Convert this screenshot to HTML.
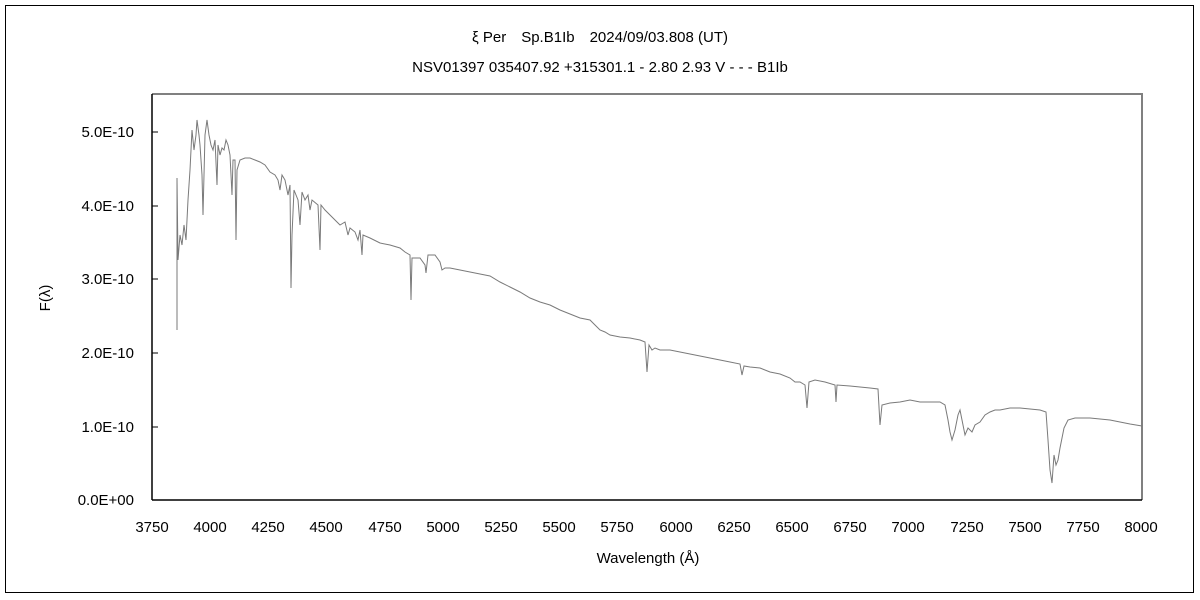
<!DOCTYPE html><html><head><meta charset="utf-8"><style>body{margin:0;background:#fff}svg{display:block}text{font-family:"Liberation Sans","Noto Sans CJK JP",sans-serif;font-size:15px;fill:#000}</style></head><body>
<svg width="1200" height="600" viewBox="0 0 1200 600">
<rect x="5.5" y="5.5" width="1188" height="587" fill="#fff" stroke="#000" stroke-width="1"/>
<text x="600" y="42" text-anchor="middle">ξ Per　Sp.B1Ib　2024/09/03.808 (UT)</text>
<text x="600" y="72" text-anchor="middle">NSV01397 035407.92 +315301.1 - 2.80 2.93 V - - - B1Ib</text>
<polyline points="152,94 1142,94 1142,500" fill="none" stroke="#808080" stroke-width="2"/>
<line x1="152" y1="94" x2="152" y2="500" stroke="#000" stroke-width="1.5"/>
<line x1="152" y1="500" x2="1142" y2="500" stroke="#000" stroke-width="1.5"/>
<g stroke="#000" stroke-width="1">
<line x1="152" y1="132" x2="158" y2="132"/><line x1="152" y1="206" x2="158" y2="206"/><line x1="152" y1="279" x2="158" y2="279"/><line x1="152" y1="353" x2="158" y2="353"/><line x1="152" y1="427" x2="158" y2="427"/>
</g>
<g text-anchor="end">
<text x="134" y="137">5.0E-10</text><text x="134" y="211">4.0E-10</text><text x="134" y="284">3.0E-10</text><text x="134" y="358">2.0E-10</text><text x="134" y="432">1.0E-10</text><text x="134" y="505">0.0E+00</text>
</g>
<g text-anchor="middle">
<text x="152" y="532">3750</text><text x="210" y="532">4000</text><text x="268" y="532">4250</text><text x="326" y="532">4500</text><text x="385" y="532">4750</text><text x="443" y="532">5000</text><text x="501" y="532">5250</text><text x="559" y="532">5500</text><text x="617" y="532">5750</text><text x="676" y="532">6000</text><text x="734" y="532">6250</text><text x="792" y="532">6500</text><text x="850" y="532">6750</text><text x="908" y="532">7000</text><text x="967" y="532">7250</text><text x="1025" y="532">7500</text><text x="1083" y="532">7750</text><text x="1141" y="532">8000</text>
<text x="648" y="563">Wavelength (Å)</text>
</g>
<text transform="translate(50,298) rotate(-90)" text-anchor="middle">F(λ)</text>
<polyline fill="none" stroke="#7a7a7a" stroke-width="1" points="177,330 177,178 178,260 180,235 182,245 184,225 186,240 188,200 190,170 192,130 194,150 196,135 197,120 199,135 200,145 202,175 203,215 205,135 207,120 209,135 211,145 213,150 215,140 217,185 218,145 220,155 222,148 224,150 226,140 228,145 230,155 232,195 233,160 235,160 236,240 237,170 240,160 245,158 250,158 255,160 260,162 265,165 270,172 275,175 278,180 280,190 282,175 285,180 288,195 290,185 291,288 292,235 294,190 298,200 300,225 302,192 305,200 308,195 310,210 312,200 318,205 320,250 321,205 325,210 330,215 335,220 340,225 345,222 348,235 350,228 355,232 358,240 360,230 362,255 363,235 370,238 380,243 390,245 400,248 405,252 410,255 411,300 412,258 415,258 420,258 425,265 426,273 428,255 435,255 440,262 442,270 445,268 450,268 460,270 470,272 480,274 490,276 500,282 510,287 520,292 530,298 540,302 550,305 560,310 570,314 580,318 590,320 595,325 600,330 605,332 610,335 620,337 630,338 640,340 645,342 647,372 649,345 652,350 655,348 660,350 670,350 680,352 690,354 700,356 710,358 720,360 730,362 740,364 742,375 744,366 750,367 760,368 770,372 780,374 790,378 795,382 800,382 805,385 807,408 809,382 815,380 825,382 835,385 836,402 837,385 850,386 870,388 878,389 880,425 882,405 890,403 900,402 910,400 920,402 930,402 940,402 945,405 948,420 950,432 952,440 955,430 958,415 960,410 962,420 965,435 968,428 972,432 975,425 980,422 985,415 990,412 995,410 1000,410 1010,408 1020,408 1030,409 1040,410 1046,412 1048,440 1050,470 1052,483 1054,455 1056,465 1058,460 1060,448 1064,428 1068,420 1075,418 1090,418 1100,419 1110,420 1120,422 1130,424 1142,426"/>
</svg></body></html>
